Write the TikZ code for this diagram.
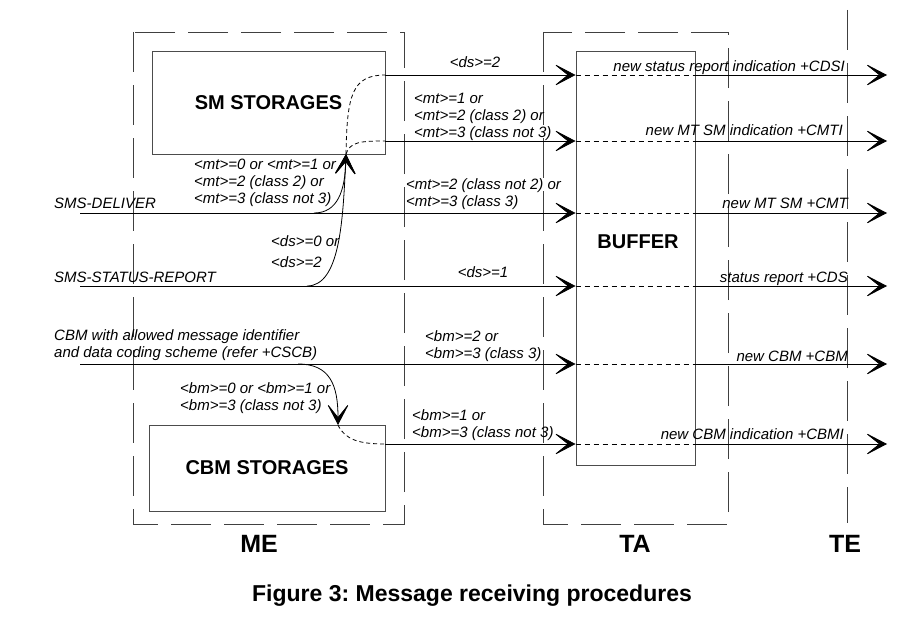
\documentclass[tikz,border=0pt]{standalone}
\usepackage{fontspec}
\setmainfont{Liberation Sans}
\usetikzlibrary{arrows.meta}
\frenchspacing

\begin{document}
\begin{tikzpicture}[x=1pt,y=-1pt,
  flow/.style={-{Stealth[length=23pt,width=24pt,inset=15pt]},line width=0.8pt},
  grp/.style={draw=black!75,line width=0.9pt,dash pattern=on 40pt off 13pt},
  store/.style={draw=black!70,line width=0.9pt,font=\fontsize{20}{24}\selectfont\bfseries},
  inner/.style={line width=0.8pt,dash pattern=on 5pt off 4pt},
  lbl/.style={font=\fontsize{15}{17}\selectfont\itshape,inner sep=0pt,align=left},
  tier/.style={font=\fontsize{25}{30}\selectfont\bfseries,inner sep=0pt}]
\useasboundingbox (0,0) rectangle (921,626);

% ME, TA and TE
\draw[grp] (133,32) rectangle (404,524);
\draw[grp] (543,32) rectangle (728,524);
\draw[grp] (847,10) -- (847,523);
\node[tier,anchor=base] (me) at (259,552) {ME};
\node[tier,anchor=base] (ta) at (635,552) {TA};
\node[tier,anchor=base] (te) at (845,552) {TE};

% storages and buffer
\node[store,minimum width=233pt,minimum height=103pt] (sm) at (268.5,102.5) {SM STORAGES};
\node[store,minimum width=236pt,minimum height=86pt] (cbm) at (267,468) {CBM STORAGES};
\node[store,minimum width=119pt,minimum height=414pt] (buf) at (635.5,258) {};
\node[store,draw=none] (buftxt) at (638,242) {BUFFER};

% rows
\coordinate (r1) at (0,75);
\coordinate (r2) at (0,141);
\coordinate (r3) at (0,213);
\coordinate (r4) at (0,286);
\coordinate (r5) at (0,364);
\coordinate (r6) at (0,444);
\coordinate (src) at (80,0);
\coordinate (out) at (887,0);

\foreach \r in {r1,r2}
  \draw[flow] (sm.east |- \r) -- (buf.west |- \r);
\foreach \r in {r3,r4,r5}
  \draw[flow] (src |- \r) -- (buf.west |- \r);
\draw[flow] (cbm.east |- r6) -- (buf.west |- r6);
\foreach \r in {r1,r2,r3,r4,r5,r6} {
  \draw[inner] (buf.west |- \r) -- (buf.east |- \r);
  \draw[flow] (buf.east |- \r) -- (out |- \r);
}

% into and out of the storages
\coordinate (smin) at (346,154);
\coordinate (dlv) at (314,213);
\coordinate (rep) at (307,286);
\coordinate (bc) at (298,364);
\coordinate (cbin) at (338,425);
\draw[flow] (dlv) .. controls (338,213) and (345,190) .. (smin);
\draw[flow] (rep) .. controls (340,286) and (343,220) .. (smin);
\draw[inner,dash pattern=on 4pt off 3pt] (smin) .. controls (347,95) and (352,75) .. (sm.east |- r1);
\draw[inner,dash pattern=on 4pt off 3pt] (smin) .. controls (350,142) and (360,141) .. (sm.east |- r2);
\draw[flow] (bc) .. controls (330,364) and (338,385) .. (cbin);
\draw[inner,dash pattern=on 4pt off 3pt] (cbin) .. controls (345,440) and (360,444) .. (cbm.east |- r6);

% labels (multi-line ones sit on their last line)
\node[lbl,anchor=base] (l1) at (475,67) {<ds>=2};
\node[lbl,anchor=base west] (l2) at (414,137) {<mt>=1 or\\<mt>=2 (class 2) or\\<mt>=3 (class not 3)};
\node[lbl,anchor=base west] (l3) at (406,206) {<mt>=2 (class not 2) or\\<mt>=3 (class 3)};
\node[lbl,anchor=base] (l4) at (483,277) {<ds>=1};
\node[lbl,anchor=base west] (l5) at (425,358) {<bm>=2 or\\<bm>=3 (class 3)};
\node[lbl,anchor=base west] (l6) at (412,437) {<bm>=1 or\\<bm>=3 (class not 3)};

\node[lbl,anchor=base east] (o1) at (845,72) {new status report indication +CDSI};
\node[lbl,anchor=base east] (o2) at (843,135) {new MT SM indication +CMTI};
\node[lbl,anchor=base east] (o3) at (848,208) {new MT SM +CMT};
\node[lbl,anchor=base east] (o4) at (848,282) {status report +CDS};
\node[lbl,anchor=base east] (o5) at (848,361) {new CBM +CBM};
\node[lbl,anchor=base east] (o6) at (844,439) {new CBM indication +CBMI};

\node[lbl,anchor=base west] (i1) at (54,208) {SMS-DELIVER};
\node[lbl,anchor=base west] (i2) at (54,282) {SMS-STATUS-REPORT};
\node[lbl,anchor=base west] (i3) at (54,357) {CBM with allowed message identifier\\and data coding scheme (refer +CSCB)};

\node[lbl,anchor=base west] (s1) at (194,203) {<mt>=0 or <mt>=1 or\\<mt>=2 (class 2) or\\<mt>=3 (class not 3)};
\node[lbl,anchor=base west] (s2) at (271,267) {<ds>=0 or\\[4pt]<ds>=2};
\node[lbl,anchor=base west] (s3) at (180,410) {<bm>=0 or <bm>=1 or\\<bm>=3 (class not 3)};

\node[font=\fontsize{23}{28}\selectfont\bfseries,anchor=base] (cap) at (472,601) {Figure 3: Message receiving procedures};
\end{tikzpicture}
\end{document}
